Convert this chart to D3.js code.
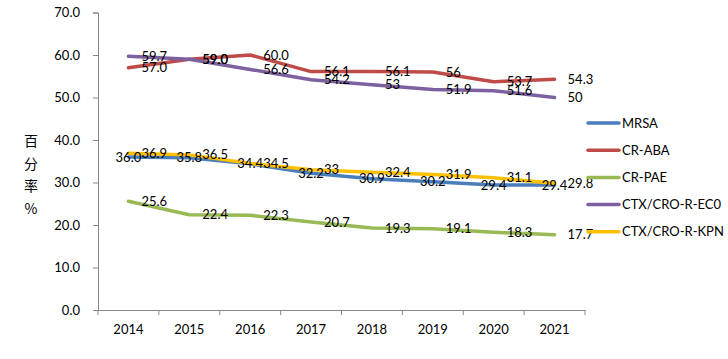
<!DOCTYPE html>
<html>
<head>
<meta charset="utf-8">
<script src="https://cdn.jsdelivr.net/npm/d3@7"></script>
<style>
  body { margin: 0; background: #fff; }
  text { font-family: Lato, "Liberation Sans", sans-serif; fill: #000; }
</style>
</head>
<body>
<script>
const years = ["2014", "2015", "2016", "2017", "2018", "2019", "2020", "2021"];
const seriesNames = ["MRSA", "CR-ABA", "CR-PAE", "CTX/CRO-R-EC0", "CTX/CRO-R-KPN"];
const colors = ["#4a7ebb", "#be4b48", "#98b954", "#7d60a0", "#ffc000"];

const mrsa = [36.0, 35.8, 34.4, 32.2, 30.9, 30.2, 29.4, 29.4];
const crAba = [57.0, 59.0, 60.0, 56.1, 56.1, 56, 53.7, 54.3];
const crPae = [25.6, 22.4, 22.3, 20.7, 19.3, 19.1, 18.3, 17.7];
const eco = [59.7, 59.0, 56.6, 54.2, 53, 51.9, 51.6, 50];
const kpn = [36.9, 36.5, 34.5, 33, 32.4, 31.9, 31.1, 29.8];

const mrsaLabels = ["36.0", "35.8", "34.4", "32.2", "30.9", "30.2", "29.4", "29.4"];
const crAbaLabels = ["57.0", "59.0", "60.0", "56.1", "56.1", "56", "53.7", "54.3"];
const crPaeLabels = ["25.6", "22.4", "22.3", "20.7", "19.3", "19.1", "18.3", "17.7"];
const ecoLabels = ["59.7", "59.0", "56.6", "54.2", "53", "51.9", "51.6", "50"];
const kpnLabels = ["36.9", "36.5", "34.5", "33", "32.4", "31.9", "31.1", "29.8"];

const yTicks = [0, 10, 20, 30, 40, 50, 60, 70];

const series = [
  { name: seriesNames[0], values: mrsa, labels: mrsaLabels, pos: "center" },
  { name: seriesNames[1], values: crAba, labels: crAbaLabels, pos: "right" },
  { name: seriesNames[2], values: crPae, labels: crPaeLabels, pos: "right" },
  { name: seriesNames[3], values: eco, labels: ecoLabels, pos: "right" },
  { name: seriesNames[4], values: kpn, labels: kpnLabels, pos: "right" }
];

const W = 728, H = 359;
const plotLeft = 98, plotRight = 585, plotTop = 12.5, plotBottom = 310;

const svg = d3.select("body").append("svg")
  .attr("width", W).attr("height", H);

const x = d3.scaleBand().domain(years).range([plotLeft, plotRight]);
const y = d3.scaleLinear().domain([0, 70]).range([plotBottom, plotTop]);

// y axis
const yAxis = svg.append("g")
  .attr("transform", `translate(${plotLeft},0)`)
  .call(d3.axisLeft(y).tickValues(yTicks).tickSize(5).tickPadding(13)
    .tickFormat(d3.format(".1f")));
yAxis.select(".domain").attr("stroke", "#868686");
yAxis.selectAll(".tick line").attr("stroke", "#868686");
yAxis.selectAll("text").style("font-size", "13px").attr("fill", "#000");

// x axis
const xAxis = svg.append("g")
  .attr("transform", `translate(0,${plotBottom})`)
  .call(d3.axisBottom(x).tickSize(0).tickPadding(15));
xAxis.select(".domain").attr("stroke", "#868686");
xAxis.selectAll("text").style("font-size", "13px").attr("fill", "#000");
xAxis.selectAll(".bnd").data(years.concat(["end"])).join("line")
  .attr("class", "bnd")
  .attr("x1", (d, i) => plotLeft + i * x.step())
  .attr("x2", (d, i) => plotLeft + i * x.step())
  .attr("y1", 0).attr("y2", 5)
  .attr("stroke", "#868686");

// y title
svg.append("g").selectAll("text")
  .data(["百", "分", "率", "%"])
  .join("text")
  .attr("x", 31)
  .attr("y", (d, i) => 146 + i * 22.5)
  .attr("text-anchor", "middle")
  .style("font-family", "'Noto Sans CJK SC', sans-serif")
  .style("font-size", "14px")
  .text(d => d);

// lines
const line = d3.line()
  .x((d, i) => x(years[i]) + x.bandwidth() / 2)
  .y(d => y(d));

series.forEach((s, k) => {
  svg.append("path")
    .attr("d", line(s.values))
    .attr("fill", "none")
    .attr("stroke", colors[k])
    .attr("stroke-width", 3.5)
    .attr("stroke-linejoin", "round")
    .attr("stroke-linecap", "round");
});

// labels
series.forEach(s => {
  svg.append("g").selectAll("text")
    .data(s.values)
    .join("text")
    .attr("x", (d, i) => x(years[i]) + x.bandwidth() / 2 + (s.pos === "right" ? 13 : 0))
    .attr("y", d => y(d))
    .attr("dy", "0.35em")
    .attr("text-anchor", s.pos === "right" ? "start" : "middle")
    .style("font-size", "13px")
    .text((d, i) => s.labels[i]);
});

// legend
const legend = svg.append("g").attr("transform", "translate(588,123)");
const items = legend.selectAll("g").data(series).join("g")
  .attr("transform", (d, i) => `translate(0,${i * 27.2})`);
items.append("line")
  .attr("x1", 0).attr("x2", 31)
  .attr("stroke", (d, i) => colors[i])
  .attr("stroke-width", 3.5)
  .attr("stroke-linecap", "round");
items.append("text")
  .attr("x", 34)
  .attr("dy", "0.35em")
  .style("font-size", "13px")
  .text(d => d.name);
</script>
</body>
</html>
